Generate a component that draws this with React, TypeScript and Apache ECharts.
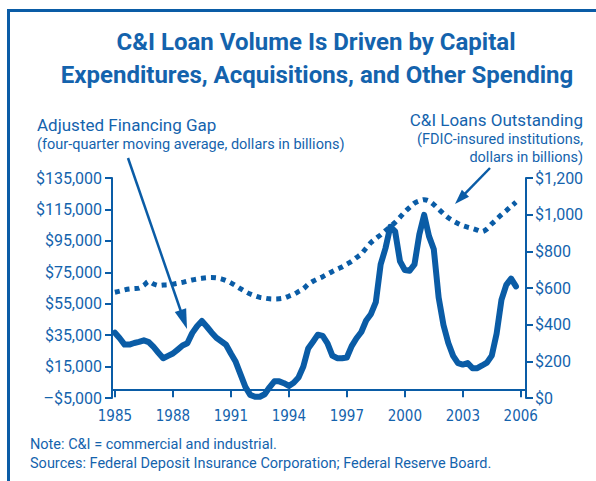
import React, { useEffect, useRef } from "react";
import * as echarts from "echarts";

const TITLE_LINES = [
  "C&I Loan Volume Is Driven by Capital",
  "Expenditures, Acquisitions, and Other Spending",
];
const LEFT_LABEL = "Adjusted Financing Gap";
const LEFT_SUB = "(four-quarter moving average, dollars in billions)";
const RIGHT_LABEL = "C&I Loans Outstanding";
const RIGHT_SUB = ["(FDIC-insured institutions,", "dollars in billions)"];
const NOTES = [
  "Note: C&I = commercial and industrial.",
  "Sources: Federal Deposit Insurance Corporation; Federal Reserve Board.",
];

const yearTicks = [1985, 1988, 1991, 1994, 1997, 2000, 2003, 2006];

// quarterly observations, 1985 Q1 .. 2005 Q4
const quarters: number[] = Array.from({ length: 84 }, (_, i) => 1985 + i / 4);

const financingGap = [
  36500, 33000, 29000, 29000,
  30000, 30700, 31700, 30600,
  27500, 23800, 20300, 21800,
  23300, 25800, 28400, 29800,
  36300, 40700, 44000, 40500,
  36700, 33300, 31100, 28900,
  23300, 18000, 10000, 2100,
  -3000, -4200, -4200, -2600,
  1800, 5600, 5600, 4400,
  2700, 4700, 8000, 15000,
  26500, 30800, 35300, 34500,
  29800, 22000, 20300, 20300,
  20800, 28000, 33000, 37000,
  44300, 48500, 56000, 80000,
  90300, 104000, 101000, 82000,
  76500, 76000, 80000, 99000,
  111500, 98000, 89600, 59000,
  41500, 30000, 21800, 17200,
  16300, 17200, 14000, 14000,
  15700, 17500, 22000, 36000,
  57400, 67000, 71000, 66000,
];

const loansOutstanding = [
  577, 583, 590, 595,
  597, 599, 615, 635,
  622, 614, 616, 618,
  621, 626, 631, 638,
  644, 649, 653, 656,
  657, 656, 650, 641,
  628, 613, 596, 580,
  567, 557, 549, 545,
  541, 540, 541, 545,
  555, 565, 580, 595,
  620, 637, 650, 662,
  676, 690, 703, 715,
  730, 746, 766, 786,
  818, 848, 870, 890,
  913, 935, 958, 986,
  1015, 1040, 1063, 1075,
  1082, 1075, 1055, 1030,
  1005, 983, 966, 952,
  940, 932, 925, 916,
  908, 922, 950, 975,
  1000, 1022, 1045, 1068,
];

const BLUE = "#0a5ca6";
const TEXT = "#1463ad";
const FONT = "Roboto, 'Liberation Sans', sans-serif";
const NARROW = "'Liberation Sans Narrow', 'DejaVu Sans Condensed', sans-serif";

const fmtMoney = (v: number) =>
  (v < 0 ? "\u2013$" : "$") + Math.abs(v).toLocaleString("en-US");

export default function App() {
  const ref = useRef<HTMLDivElement>(null);
  useEffect(() => {
    if (!ref.current) return;
    const chart = echarts.init(ref.current, undefined, { renderer: "svg" });
    const arrow = (x1: number, y1: number, x2: number, y2: number, hl: number, hw: number) => {
      const dx = x2 - x1;
      const dy = y2 - y1;
      const len = Math.sqrt(dx * dx + dy * dy);
      const ux = dx / len;
      const uy = dy / len;
      const bx = x2 - ux * hl;
      const by = y2 - uy * hl;
      const px = -uy * hw;
      const py = ux * hw;
      return [
        {
          type: "line",
          shape: { x1, y1, x2: bx + ux * 2, y2: by + uy * 2 },
          style: { stroke: BLUE, lineWidth: 2.5 },
        },
        {
          type: "polygon",
          shape: { points: [[x2, y2], [bx + px, by + py], [bx - px, by - py]] },
          style: { fill: BLUE },
        },
      ];
    };
    const txt = (text: string, x: number, y: number, font: string, align: string) => ({
      type: "text",
      x,
      y,
      style: { text, font, fill: TEXT, textAlign: align, textVerticalAlign: "middle" },
    });
    const texts: any[] = [
      txt(TITLE_LINES[0], 316, 42, `bold 24px ${FONT}`, "center"),
      txt(TITLE_LINES[1], 317, 75, `bold 24px ${FONT}`, "center"),
      txt(LEFT_LABEL, 37, 125, `17px ${FONT}`, "left"),
      txt(LEFT_SUB, 37, 144, `14.5px ${FONT}`, "left"),
      txt(RIGHT_LABEL, 583, 120, `17px ${FONT}`, "right"),
      txt(RIGHT_SUB[0], 583, 139, `14.5px ${FONT}`, "right"),
      txt(RIGHT_SUB[1], 583, 157, `14.5px ${FONT}`, "right"),
      txt(NOTES[0], 30, 444, `14.5px ${FONT}`, "left"),
      txt(NOTES[1], 30, 463, `14.5px ${FONT}`, "left"),
    ];
    chart.setOption({
      animation: false,
      backgroundColor: "#ffffff",
      grid: { left: 112, right: 70, top: 178, bottom: 83, containLabel: false },
      xAxis: {
        type: "value",
        min: 1984.85,
        max: 2006.27,
        splitLine: { show: false },
        axisLine: { show: true, onZero: true, onZeroAxisIndex: 0, lineStyle: { color: BLUE, width: 2 } },
        axisTick: { show: true, customValues: yearTicks, length: 7, lineStyle: { color: BLUE, width: 2 } },
        axisLabel: {
          customValues: yearTicks,
          formatter: (v: number) => String(v),
          color: TEXT,
          fontFamily: NARROW,
          fontSize: 15,
          margin: 10,
        },
      },
      yAxis: [
        {
          type: "value",
          position: "left",
          min: -5000,
          max: 135000,
          interval: 20000,
          splitLine: { show: false },
          axisLine: { show: true, lineStyle: { color: BLUE, width: 2 } },
          axisTick: { show: true, length: 7, lineStyle: { color: BLUE, width: 2 } },
          axisLabel: { formatter: fmtMoney, color: TEXT, fontFamily: FONT, fontSize: 16, margin: 10 },
        },
        {
          type: "value",
          position: "right",
          min: 0,
          max: 1200,
          interval: 200,
          splitLine: { show: false },
          axisLine: { show: true, lineStyle: { color: BLUE, width: 2 } },
          axisTick: { show: true, length: 7, lineStyle: { color: BLUE, width: 2 } },
          axisLabel: { formatter: fmtMoney, color: TEXT, fontFamily: FONT, fontSize: 16, margin: 9 },
        },
      ],
      series: [
        {
          type: "line",
          name: "Adjusted Financing Gap",
          yAxisIndex: 0,
          data: quarters.map((q, i) => [q, financingGap[i]]),
          showSymbol: false,
          lineStyle: { color: BLUE, width: 6, join: "round", cap: "round" },
        },
        {
          type: "line",
          name: "C&I Loans Outstanding",
          yAxisIndex: 1,
          data: quarters.map((q, i) => [q, loansOutstanding[i]]),
          showSymbol: false,
          smooth: 0.3,
          lineStyle: { color: BLUE, width: 5, type: "dotted" },
        },
      ],
      graphic: [
        {
          type: "polyline",
          shape: { points: [[8.5, 481], [8.5, 10.5], [596, 10.5]] },
          style: { stroke: BLUE, lineWidth: 3, fill: "none" },
        },
        ...texts,
        ...arrow(128, 158, 187, 329, 20, 6),
        ...arrow(490, 168, 455, 204, 15, 5),
      ],
    });
    return () => chart.dispose();
  }, []);
  return (
    <div
      ref={ref}
      style={{ position: "fixed", left: 0, top: 0, width: 596, height: 481 }}
    />
  );
}
